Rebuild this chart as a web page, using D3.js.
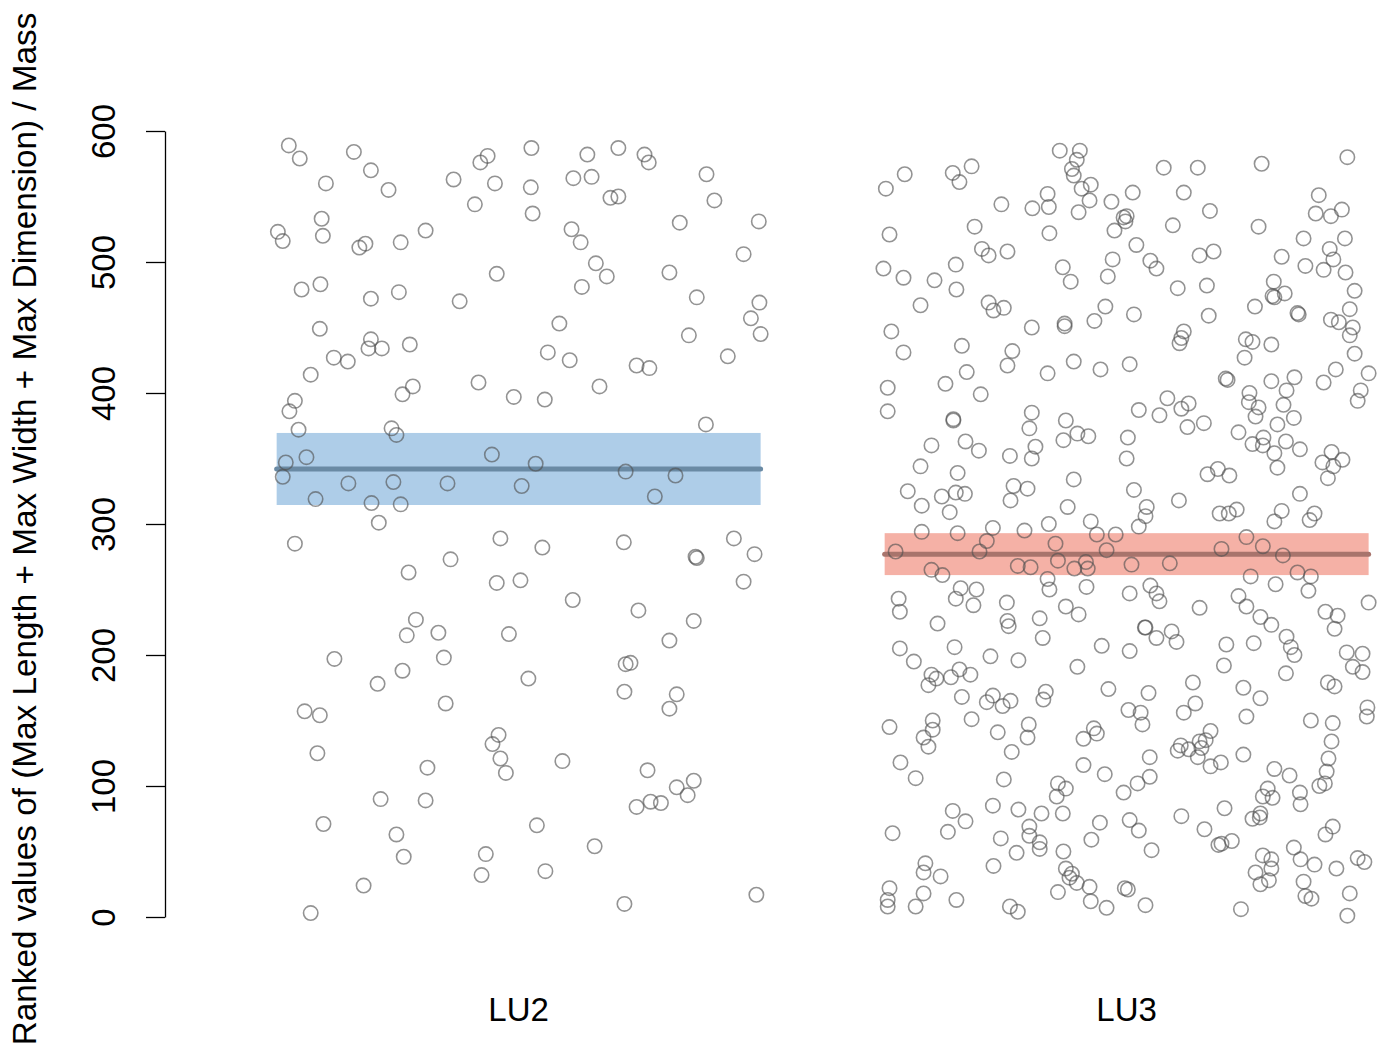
<!DOCTYPE html>
<html>
<head>
<meta charset="utf-8">
<script src="https://cdn.jsdelivr.net/npm/d3@7"></script>
<style>
  html, body { margin: 0; padding: 0; background: #ffffff; }
  svg { display: block; }
  text { font-family: "Liberation Sans", Arial, Helvetica, sans-serif; }
</style>
</head>
<body>
<svg id="chart" width="1385" height="1048"></svg>
<script>
// Groups along the x axis
const categories = ["LU2", "LU3"];

// Horizontal jitter (offset from the group centre) and ranked value of each specimen
const lu2Points = [
  [-0.378,589],[-0.360,579],[-0.271,584],[-0.243,570],[-0.317,560],[-0.214,555],[-0.107,563],[-0.063,576],[-0.051,581],[-0.039,560],
  [-0.072,544],[-0.324,533],[-0.396,523],[-0.388,516],[-0.322,520],[-0.262,511],[-0.252,514],[-0.194,515],[-0.153,524],[-0.357,479],
  [-0.326,483],[-0.243,472],[-0.197,477],[-0.097,470],[-0.036,491],[-0.327,449],[-0.243,441],[-0.247,434],[-0.225,434],[-0.179,437],
  [-0.304,427],[-0.281,424],[-0.342,414],[-0.368,394],[-0.377,386],[-0.362,372],[-0.191,399],[-0.174,405],[-0.066,408],[-0.008,397],
  [-0.209,373],[-0.201,368],[-0.383,347],[-0.349,351],[-0.388,336],[-0.280,331],[-0.206,332],[-0.117,331],[-0.044,353],[-0.334,319],
  [-0.242,316],[-0.194,315],[-0.230,301],[0.021,587],[0.113,582],[0.164,587],[0.207,582],[0.214,576],[0.020,557],[0.090,564],
  [0.120,565],[0.151,549],[0.164,550],[0.309,567],[0.023,537],[0.322,547],[0.265,530],[0.395,531],[0.087,525],[0.102,515],
  [0.127,499],[0.145,489],[0.104,481],[0.248,492],[0.370,506],[0.293,473],[0.396,469],[0.382,457],[0.398,445],[0.067,453],
  [0.280,444],[0.048,431],[0.084,425],[0.194,421],[0.215,419],[0.344,428],[0.133,405],[0.043,395],[0.308,376],[0.028,346],
  [0.005,329],[0.176,340],[0.258,337],[0.224,321],[-0.368,285],[-0.030,289],[-0.112,273],[-0.181,263],[-0.036,255],[0.003,257],
  [-0.169,227],[-0.184,215],[-0.132,217],[-0.016,216],[-0.303,197],[-0.123,198],[-0.191,188],[-0.232,178],[-0.120,163],[-0.352,157],
  [-0.327,154],[-0.331,125],[-0.033,139],[-0.043,132],[-0.030,121],[-0.021,110],[-0.150,114],[-0.227,90],[-0.153,89],[-0.321,71],
  [-0.201,63],[-0.189,46],[-0.054,48],[-0.061,32],[-0.255,24],[-0.342,3],[0.039,282],[0.173,286],[0.291,275],[0.293,274],
  [0.354,289],[0.388,277],[0.370,256],[0.089,242],[0.197,234],[0.288,226],[0.248,211],[0.176,193],[0.184,194],[0.016,182],
  [0.174,172],[0.260,170],[0.248,159],[0.072,119],[0.212,112],[0.260,99],[0.288,104],[0.278,93],[0.194,84],[0.217,88],
  [0.234,87],[0.030,70],[0.125,54],[0.044,35],[0.174,10],[0.391,17]
];

const lu3Points = [
  [-0.365,567],[-0.396,556],[-0.286,568],[-0.275,561],[-0.255,573],[-0.206,544],[-0.155,541],[-0.130,552],[-0.128,542],[-0.390,521],
  [-0.250,527],[-0.238,510],[-0.227,505],[-0.196,508],[-0.127,522],[-0.400,495],[-0.367,488],[-0.316,486],[-0.281,498],[-0.280,479],
  [-0.339,467],[-0.227,469],[-0.219,463],[-0.202,465],[-0.156,450],[-0.387,447],[-0.367,431],[-0.271,436],[-0.188,432],[-0.196,421],
  [-0.130,415],[-0.393,404],[-0.393,386],[-0.298,407],[-0.263,416],[-0.240,399],[-0.285,380],[-0.285,379],[-0.156,385],[-0.160,373],
  [-0.321,360],[-0.265,363],[-0.243,356],[-0.192,352],[-0.150,359],[-0.156,350],[-0.339,344],[-0.278,339],[-0.360,325],[-0.337,314],
  [-0.304,321],[-0.281,324],[-0.266,323],[-0.291,309],[-0.186,329],[-0.163,327],[-0.191,318],
  [-0.337,294],[-0.278,293],[-0.220,297],[-0.168,295],[-0.128,300],[-0.230,287],[-0.380,279],[-0.242,279],[-0.321,265],[-0.303,261],
  [-0.179,268],[-0.158,267],[-0.375,243],[-0.373,233],[-0.273,251],[-0.247,250],[-0.281,243],[-0.252,238],[-0.197,240],[-0.311,224],
  [-0.196,226],[-0.194,222],[-0.143,228],[-0.138,213],[-0.373,205],[-0.350,195],[-0.283,206],[-0.224,199],[-0.178,196],[-0.321,185],
  [-0.313,182],[-0.326,177],[-0.289,183],[-0.275,189],[-0.257,185],[-0.271,168],[-0.220,169],[-0.230,164],[-0.204,161],[-0.191,165],
  [-0.133,172],[-0.137,166],[-0.390,145],[-0.319,150],[-0.319,143],[-0.334,137],[-0.326,130],[-0.255,151],[-0.212,141],[-0.161,147],
  [-0.163,137],[-0.189,126],[-0.372,118],[-0.347,106],[-0.202,105],[-0.286,81],[-0.265,73],[-0.220,85],[-0.178,82],[-0.140,79],
  [-0.385,64],[-0.294,65],[-0.207,60],[-0.160,69],[-0.160,62],[-0.143,57],[-0.143,52],[-0.181,49],[-0.219,39],[-0.331,41],
  [-0.334,34],[-0.306,31],[-0.390,22],[-0.393,13],[-0.393,8],[-0.334,18],[-0.347,8],[-0.280,13],[-0.192,8],[-0.179,4],
  [-0.110,585],[-0.077,585],[-0.082,578],[-0.090,571],[-0.087,566],[-0.074,556],[-0.059,559],[-0.061,547],[-0.079,538],[-0.025,546],
  [0.010,553],[-0.005,534],[0.000,535],[-0.002,531],[-0.020,524],[0.061,572],[0.117,572],[0.094,553],[0.137,539],[0.076,528],
  [0.016,513],[0.039,501],[0.049,495],[-0.023,502],[-0.031,489],[-0.105,496],[-0.092,485],[0.120,505],[0.143,508],[0.084,480],
  [0.132,482],[-0.035,466],[-0.053,455],[0.012,460],[-0.102,453],[-0.102,451],[0.135,459],[0.094,447],[0.090,442],[0.087,438],
  [-0.087,424],[-0.043,418],[0.005,422],[0.067,396],[0.020,387],[0.054,383],[0.090,388],[0.102,392],[0.100,374],[0.127,377],
  [-0.100,379],[-0.104,364],[-0.081,369],[-0.063,367],[0.002,366],[0.000,350],[0.133,338],[0.150,342],[-0.087,334],[0.012,326],
  [0.086,318],[-0.097,313],[0.033,313],[0.031,306],[-0.059,302],
  [0.020,298],[-0.117,285],[-0.049,292],[-0.018,292],[-0.033,280],[-0.113,272],[-0.086,266],[-0.067,271],[-0.064,266],[0.008,269],
  [0.071,270],[-0.130,258],[-0.127,250],[-0.066,252],[0.005,247],[0.039,253],[0.049,247],[0.054,241],[0.120,236],[-0.100,237],
  [-0.079,231],[0.030,221],[0.031,221],[0.049,213],[0.074,218],[0.082,210],[-0.041,207],[0.005,203],[-0.081,191],[0.109,179],
  [-0.030,174],[0.036,171],[0.003,158],[0.023,156],[0.026,147],[0.094,156],[0.113,163],[-0.054,144],[-0.049,140],[-0.071,136],
  [0.089,131],[0.084,127],[0.102,128],[0.120,134],[0.130,135],[0.117,122],[0.123,129],[0.138,142],[0.138,115],[-0.071,116],
  [0.038,122],[-0.036,109],[0.038,107],[0.018,102],[-0.005,95],[-0.113,102],[-0.100,98],[-0.115,92],[-0.105,79],[-0.044,72],
  [0.005,74],[0.020,66],[-0.058,59],[0.090,77],[0.128,67],[0.041,51],[-0.104,50],[-0.100,37],[-0.094,30],[-0.090,33],
  [-0.082,26],[-0.061,23],[-0.113,19],[-0.059,12],[-0.033,7],[-0.003,22],[0.002,21],[0.031,9],
  [0.222,575],[0.363,580],[0.316,551],[0.311,537],[0.336,535],[0.354,540],[0.217,527],[0.291,518],[0.359,518],[0.334,510],
  [0.340,502],[0.324,494],[0.360,492],[0.255,504],[0.294,497],[0.242,485],[0.240,474],[0.243,473],[0.260,476],[0.211,466],
  [0.281,461],[0.283,460],[0.375,478],[0.367,464],[0.336,456],[0.349,454],[0.372,450],[0.367,444],[0.375,430],[0.196,441],
  [0.207,439],[0.194,427],[0.238,437],[0.163,411],[0.166,410],[0.238,409],[0.276,412],[0.263,402],[0.202,400],[0.201,393],
  [0.217,389],[0.212,382],[0.258,391],[0.275,381],[0.324,408],[0.344,418],[0.398,415],[0.385,402],[0.380,394],[0.248,376],
  [0.184,370],[0.207,361],[0.225,366],[0.224,360],[0.243,354],[0.262,363],[0.285,357],[0.248,343],[0.337,355],[0.355,349],
  [0.322,347],[0.340,344],[0.331,335],[0.169,337],[0.285,323],[0.181,311],[0.168,308],[0.153,308],[0.255,310],[0.243,302],
  [0.309,308],[0.301,303],
  [0.197,290],[0.224,283],[0.156,281],[0.257,276],[0.204,260],[0.245,254],[0.281,263],[0.303,260],[0.299,249],[0.398,240],
  [0.184,245],[0.197,237],[0.220,229],[0.238,223],[0.263,214],[0.270,206],[0.276,200],[0.262,186],[0.327,233],[0.347,230],
  [0.342,220],[0.362,202],[0.388,201],[0.372,191],[0.388,187],[0.164,208],[0.209,209],[0.160,192],[0.331,179],[0.342,176],
  [0.192,175],[0.220,167],[0.197,153],[0.396,160],[0.395,153],[0.303,150],[0.339,148],[0.337,134],[0.332,121],[0.329,111],
  [0.326,102],[0.317,100],[0.192,124],[0.155,118],[0.243,113],[0.268,108],[0.232,98],[0.224,92],[0.240,91],[0.285,95],
  [0.286,86],[0.161,83],[0.220,79],[0.207,75],[0.219,76],[0.339,69],[0.327,63],[0.173,58],[0.156,56],[0.151,55],
  [0.275,53],[0.286,44],[0.309,40],[0.224,47],[0.238,44],[0.238,37],[0.212,34],[0.220,25],[0.234,28],[0.291,27],
  [0.294,16],[0.304,14],[0.345,37],[0.380,45],[0.391,42],[0.367,18],[0.363,1],[0.188,6]
];

// Median rank of each group and the interval drawn around it
const medians = [342, 277];
const intervalLow = [314.5, 261];
const intervalHigh = [369.5, 293];
const bandColors = ["#aecde8", "#f5b1a6"];
const lineColors = ["#6a8aa4", "#a8746c"];

const yTicks = [0, 100, 200, 300, 400, 500, 600];
const yTitle = "Ranked values of (Max Length + Max Width + Max Dimension) / Mass";

const halfWidth = 0.398;

const svg = d3.select("#chart");

const x = d3.scaleLinear().domain([0.42, 2.42]).range([166, 1382]);
const y = d3.scaleLinear().domain([0, 600]).range([917, 131]);

// Interval bands
svg.append("g").selectAll("rect")
  .data(categories)
  .join("rect")
  .attr("x", (d, i) => x(i + 1 - halfWidth))
  .attr("width", (d, i) => x(i + 1 + halfWidth) - x(i + 1 - halfWidth))
  .attr("y", (d, i) => y(intervalHigh[i]))
  .attr("height", (d, i) => y(intervalLow[i]) - y(intervalHigh[i]))
  .attr("fill", (d, i) => bandColors[i]);

// Median lines
svg.append("g").selectAll("line")
  .data(categories)
  .join("line")
  .attr("x1", (d, i) => x(i + 1 - halfWidth))
  .attr("x2", (d, i) => x(i + 1 + halfWidth))
  .attr("y1", (d, i) => y(medians[i]))
  .attr("y2", (d, i) => y(medians[i]))
  .attr("stroke", (d, i) => lineColors[i])
  .attr("stroke-width", 5)
  .attr("stroke-linecap", "round");

// Jittered specimens
const groups = [lu2Points, lu3Points];
groups.forEach((pts, i) => {
  svg.append("g").selectAll("circle")
    .data(pts)
    .join("circle")
    .attr("cx", d => x(i + 1 + d[0]))
    .attr("cy", d => y(d[1]))
    .attr("r", 7.2)
    .attr("fill", "none")
    .attr("stroke", "rgba(80,80,80,0.62)")
    .attr("stroke-width", 1.6);
});

// Y axis with rotated tick labels
const yAxis = svg.append("g")
  .attr("transform", "translate(165,0)")
  .call(d3.axisLeft(y).tickValues(yTicks).tickSize(19).tickSizeOuter(0).tickFormat(d3.format("d")));
yAxis.select(".domain").attr("stroke", "#000").attr("stroke-width", 1.3);
yAxis.selectAll(".tick line").attr("stroke", "#000").attr("stroke-width", 1.3);
yAxis.selectAll(".tick text")
  .attr("transform", "rotate(-90)")
  .attr("x", 0)
  .attr("y", -50)
  .attr("dy", 0)
  .attr("text-anchor", "middle")
  .attr("font-size", 33)
  .attr("font-family", "Liberation Sans, Arial, sans-serif")
  .attr("fill", "#000");

// Y axis title
svg.append("text")
  .attr("transform", "translate(36,529) rotate(-90)")
  .attr("text-anchor", "middle")
  .attr("font-size", 33.3)
  .attr("fill", "#000")
  .text(yTitle);

// Group labels
svg.append("g").selectAll("text")
  .data(categories)
  .join("text")
  .attr("x", (d, i) => x(i + 1))
  .attr("y", 1021)
  .attr("text-anchor", "middle")
  .attr("font-size", 33)
  .attr("fill", "#000")
  .text(d => d);
</script>
</body>
</html>
